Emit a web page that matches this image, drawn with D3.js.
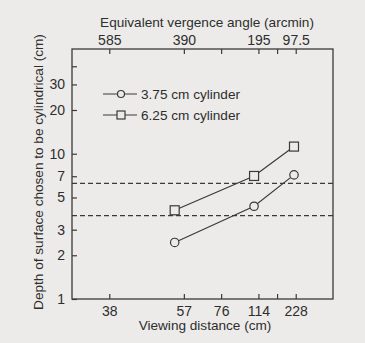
<!DOCTYPE html>
<meta charset="utf-8">
<style>
body { margin: 0; background: #ecebe9; }
svg { display: block; font-family: "Liberation Sans", Arial, sans-serif; }
.axis text { font-size: 14px; fill: #2e2e2e; }
.axis line { stroke: #3a3a3a; stroke-width: 1.2; }
.title { font-size: 13.6px; fill: #2e2e2e; }
</style>
<body>
<script src="https://d3js.org/d3.v7.min.js"></script>
<script>

// viewing distance (cm) of each measurement
var distCm = [53.7, 107.7, 218];
// depth chosen to be cylindrical (cm)
var depth375 = [2.45, 4.35, 7.15];
var depth625 = [4.08, 7.03, 11.2];
// real cylinder depths, drawn as dashed reference lines
var cylinders = [3.75, 6.25];

var distTicks = [38, 57, 76, 114, 152, 228];
var distLabels = ["38", "57", "76", "114", "", "228"];
var angleTicks = [585, 390, 292.5, 195, 146.25, 97.5];
var angleLabels = ["585", "390", "", "195", "", "97.5"];
var depthTicks = [1, 2, 3, 5, 7, 10, 20, 30, 40];
var depthLabels = ["1", "2", "3", "5", "7", "10", "20", "30", ""];

// vergence angle (arcmin) = 22230 / distance
var K = 22230;

var width = 365, height = 343;
var pLeft = 72, pRight = 333, pTop = 49, pBottom = 299;

var svg = d3.select("body").append("svg")
    .attr("width", width)
    .attr("height", height);

var x = d3.scaleLinear().domain([682.5, 0]).range([pLeft, pRight]);
var y = d3.scaleLog().domain([1, 52.6]).range([pBottom, pTop]);

var ink = "#3a3a3a";
var paper = "#ecebe9";

// frame
svg.append("rect")
    .attr("x", pLeft).attr("y", pTop)
    .attr("width", pRight - pLeft).attr("height", pBottom - pTop)
    .attr("fill", "none")
    .attr("stroke", ink)
    .attr("stroke-width", 1.3);

// bottom axis: viewing distance
svg.append("g")
    .attr("class", "axis")
    .attr("transform", "translate(0," + pBottom + ")")
    .call(d3.axisBottom(x)
      .tickValues(distTicks.map(function(d) { return K / d; }))
      .tickFormat(function(d, i) { return distLabels[i]; })
      .tickSizeInner(-5).tickSizeOuter(0).tickPadding(7))
    .call(function(g) { g.select(".domain").remove(); });

// top axis: vergence angle
svg.append("g")
    .attr("class", "axis")
    .attr("transform", "translate(0," + pTop + ")")
    .call(d3.axisTop(x)
      .tickValues(angleTicks)
      .tickFormat(function(d, i) { return angleLabels[i]; })
      .tickSizeInner(-5).tickSizeOuter(0).tickPadding(4))
    .call(function(g) { g.select(".domain").remove(); });

// left axis: depth
svg.append("g")
    .attr("class", "axis")
    .attr("transform", "translate(" + pLeft + ",0)")
    .call(d3.axisLeft(y)
      .tickValues(depthTicks)
      .tickFormat(function(d, i) { return depthLabels[i]; })
      .tickSizeInner(-5).tickSizeOuter(0).tickPadding(7))
    .call(function(g) { g.select(".domain").remove(); });

// titles
svg.append("text").attr("class", "title")
    .attr("x", 207).attr("y", 27)
    .attr("text-anchor", "middle")
    .text("Equivalent vergence angle (arcmin)");

svg.append("text").attr("class", "title")
    .attr("x", 205).attr("y", 330)
    .attr("text-anchor", "middle")
    .text("Viewing distance (cm)");

svg.append("text").attr("class", "title")
    .attr("transform", "translate(43,172) rotate(-90)")
    .attr("text-anchor", "middle")
    .text("Depth of surface chosen to be cylindrical (cm)");

// dashed reference lines
svg.selectAll(".ref")
    .data(cylinders)
  .enter().append("line")
    .attr("class", "ref")
    .attr("x1", pLeft).attr("x2", pRight)
    .attr("y1", function(d) { return y(d); })
    .attr("y2", function(d) { return y(d); })
    .attr("stroke", ink)
    .attr("stroke-width", 1.2)
    .attr("stroke-dasharray", "5,3");

var line = d3.line()
    .x(function(d) { return x(K / d[0]); })
    .y(function(d) { return y(d[1]); });

var s375 = distCm.map(function(d, i) { return [d, depth375[i]]; });
var s625 = distCm.map(function(d, i) { return [d, depth625[i]]; });

[s375, s625].forEach(function(s) {
  svg.append("path")
      .datum(s)
      .attr("d", line)
      .attr("fill", "none")
      .attr("stroke", ink)
      .attr("stroke-width", 1.2);
});

svg.selectAll(".circ")
    .data(s375)
  .enter().append("circle")
    .attr("class", "circ")
    .attr("cx", function(d) { return x(K / d[0]); })
    .attr("cy", function(d) { return y(d[1]); })
    .attr("r", 4.2)
    .attr("fill", paper)
    .attr("stroke", ink)
    .attr("stroke-width", 1.2);

svg.selectAll(".sq")
    .data(s625)
  .enter().append("rect")
    .attr("class", "sq")
    .attr("x", function(d) { return x(K / d[0]) - 4.5; })
    .attr("y", function(d) { return y(d[1]) - 4.5; })
    .attr("width", 9).attr("height", 9)
    .attr("fill", paper)
    .attr("stroke", ink)
    .attr("stroke-width", 1.2);

// legend
var legend = svg.append("g");
legend.append("line").attr("x1", 103).attr("x2", 137).attr("y1", 94).attr("y2", 94)
    .attr("stroke", ink).attr("stroke-width", 1.2);
legend.append("circle").attr("cx", 121).attr("cy", 94).attr("r", 3.5)
    .attr("fill", paper).attr("stroke", ink).attr("stroke-width", 1.2);
legend.append("text").attr("class", "title").attr("x", 141).attr("y", 99)
    .text("3.75 cm cylinder");

legend.append("line").attr("x1", 103).attr("x2", 137).attr("y1", 115).attr("y2", 115)
    .attr("stroke", ink).attr("stroke-width", 1.2);
legend.append("rect").attr("x", 117).attr("y", 111).attr("width", 8).attr("height", 8)
    .attr("fill", paper).attr("stroke", ink).attr("stroke-width", 1.2);
legend.append("text").attr("class", "title").attr("x", 141).attr("y", 120)
    .text("6.25 cm cylinder");

</script>
</body>
